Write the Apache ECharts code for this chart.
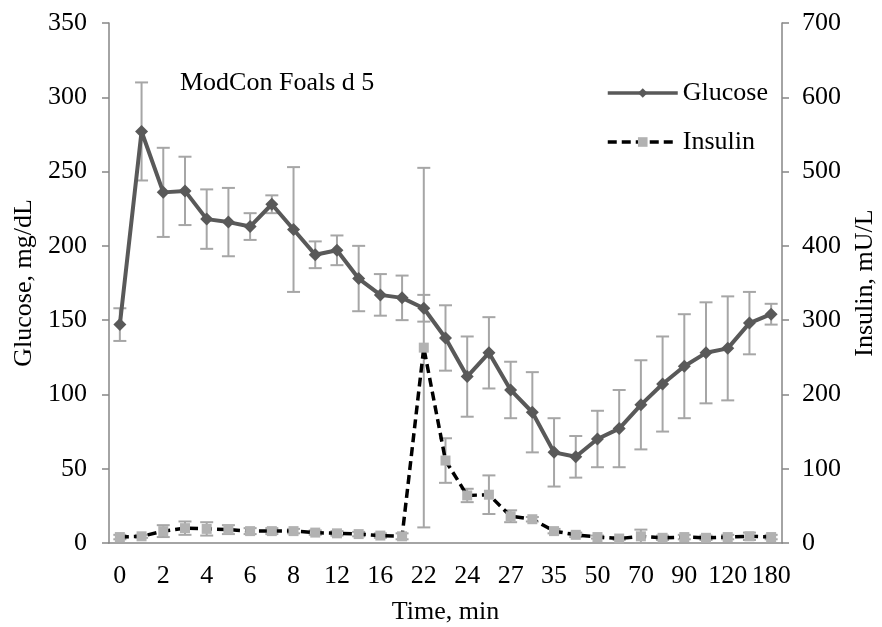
<!DOCTYPE html>
<html>
<head>
<meta charset="utf-8">
<title>ModCon Foals d 5</title>
<script src="https://cdn.jsdelivr.net/npm/echarts@6/dist/echarts.min.js"></script>
<style>
    html, body { margin: 0; padding: 0; background: #fff; }
    #main { width: 882px; height: 627px; }
</style>
</head>
<body>
<div id="main"></div>
<script>
// 时间点 (min)
var times = ['0', '1', '2', '3', '4', '5', '6', '7', '8', '10', '12', '14', '16', '19', '22', '23',
    '24', '25', '27', '30', '35', '40', '50', '60', '70', '80', '90', '100', '120', '150', '180'];
// 血糖 mg/dL 和误差
var glucose = [147, 277, 236, 237, 218, 216, 213, 228, 211, 194, 197, 178, 167, 165, 158, 138,
    112, 128, 103, 88, 61, 58, 70, 77, 93, 107, 119, 128, 131, 148, 154];
var glucoseErr = [11, 33, 30, 23, 20, 23, 9, 6, 42, 9, 10, 22, 14, 15, 9, 22,
    27, 24, 19, 27, 23, 14, 19, 26, 30, 32, 35, 34, 35, 21, 7];
// 胰岛素 mU/L 和误差
var insulin = [8, 9, 16, 20, 19, 18, 16, 16, 16, 14, 13, 12, 10, 9, 263, 111,
    64, 65, 36, 32, 16, 11, 8, 6, 9, 7, 8, 7, 8, 9, 8];
var insulinErr = [3, 2, 8, 9, 9, 6, 4, 4, 3, 3, 3, 3, 3, 4, 242, 30,
    9, 26, 8, 3, 3, 3, 2, 2, 9, 3, 3, 3, 3, 5, 3];

var font = 'Liberation Serif, Times New Roman, serif';

// 误差棒数据 [index, low, high]
function errData(vals, errs) {
    var arr = [];
    for (var i = 0; i < vals.length; i++) {
        arr.push([i, vals[i] - errs[i], vals[i] + errs[i]]);
    }
    return arr;
}

function renderErr(params, api) {
    var i = api.value(0);
    var lo = api.coord([i, api.value(1)]);
    var hi = api.coord([i, api.value(2)]);
    var half = 6.5;
    var style = { stroke: '#a6a6a6', lineWidth: 2 };
    return {
        type: 'group',
        children: [
            { type: 'line', shape: { x1: hi[0], y1: hi[1], x2: lo[0], y2: lo[1] }, style: style },
            { type: 'line', shape: { x1: hi[0] - half, y1: hi[1], x2: hi[0] + half, y2: hi[1] }, style: style },
            { type: 'line', shape: { x1: lo[0] - half, y1: lo[1], x2: lo[0] + half, y2: lo[1] }, style: style }
        ]
    };
}

var myChart = echarts.init(document.getElementById('main'));

var option = {
    animation: false,
    backgroundColor: '#fff',
    textStyle: { fontFamily: font, color: '#000' },
    title: {
        text: 'ModCon Foals d 5',
        left: 180,
        top: 70,
        padding: 0,
        textStyle: { fontFamily: font, fontSize: 26, fontWeight: 'normal', color: '#000' }
    },
    legend: {
        orient: 'vertical',
        left: 606,
        top: 80,
        padding: 0,
        itemWidth: 70,
        itemHeight: 12,
        itemGap: 23,
        data: ['Glucose', 'Insulin'],
        lineStyle: { width: 3.5 },
        textStyle: { fontFamily: font, fontSize: 26, color: '#000' }
    },
    // 不让 v6 自动缩小绘图区
    grid: { left: 109, right: 100, top: 23, bottom: 84, containLabel: false, outerBoundsMode: 'none' },
    xAxis: {
        type: 'category',
        data: times,
        name: 'Time, min',
        nameLocation: 'middle',
        nameGap: 56,
        nameTextStyle: { fontFamily: font, fontSize: 26, color: '#000' },
        axisLine: { lineStyle: { color: '#868686', width: 1.5 } },
        axisTick: { interval: 0, length: 7, lineStyle: { color: '#868686', width: 1.5 } },
        axisLabel: { interval: 1, margin: 20, fontFamily: font, fontSize: 26, color: '#000' },
        splitLine: { show: false }
    },
    yAxis: [
        {
            type: 'value',
            min: 0,
            max: 350,
            interval: 50,
            name: 'Glucose, mg/dL',
            nameLocation: 'middle',
            nameGap: 70,
            nameTextStyle: { fontFamily: font, fontSize: 26, color: '#000' },
            axisLine: { show: true, lineStyle: { color: '#868686', width: 1.5 } },
            axisTick: { show: true, length: 7, lineStyle: { color: '#868686', width: 1.5 } },
            axisLabel: { margin: 22, fontFamily: font, fontSize: 26, color: '#000' },
            splitLine: { show: false }
        },
        {
            type: 'value',
            min: 0,
            max: 700,
            interval: 100,
            name: 'Insulin, mU/L',
            nameLocation: 'middle',
            nameGap: 70,
            nameTextStyle: { fontFamily: font, fontSize: 26, color: '#000' },
            axisLine: { show: true, lineStyle: { color: '#868686', width: 1.5 } },
            axisTick: { show: true, length: 7, lineStyle: { color: '#868686', width: 1.5 } },
            axisLabel: { margin: 20, fontFamily: font, fontSize: 26, color: '#000' },
            splitLine: { show: false }
        }
    ],
    series: [
        {
            name: 'glucoseErr',
            type: 'custom',
            yAxisIndex: 0,
            renderItem: renderErr,
            data: errData(glucose, glucoseErr),
            z: 1,
            silent: true
        },
        {
            name: 'insulinErr',
            type: 'custom',
            yAxisIndex: 1,
            renderItem: renderErr,
            data: errData(insulin, insulinErr),
            z: 1,
            silent: true
        },
        {
            name: 'Insulin',
            type: 'line',
            yAxisIndex: 1,
            data: insulin,
            symbol: 'rect',
            symbolSize: 10,
            itemStyle: { color: '#b2b2b2' },
            lineStyle: { color: '#000', width: 3.5, type: [9, 5] },
            z: 3
        },
        {
            name: 'Glucose',
            type: 'line',
            yAxisIndex: 0,
            data: glucose,
            symbol: 'diamond',
            symbolSize: 13,
            itemStyle: { color: '#595959' },
            lineStyle: { color: '#595959', width: 4 },
            z: 4
        }
    ]
};

myChart.setOption(option);
</script>
</body>
</html>
